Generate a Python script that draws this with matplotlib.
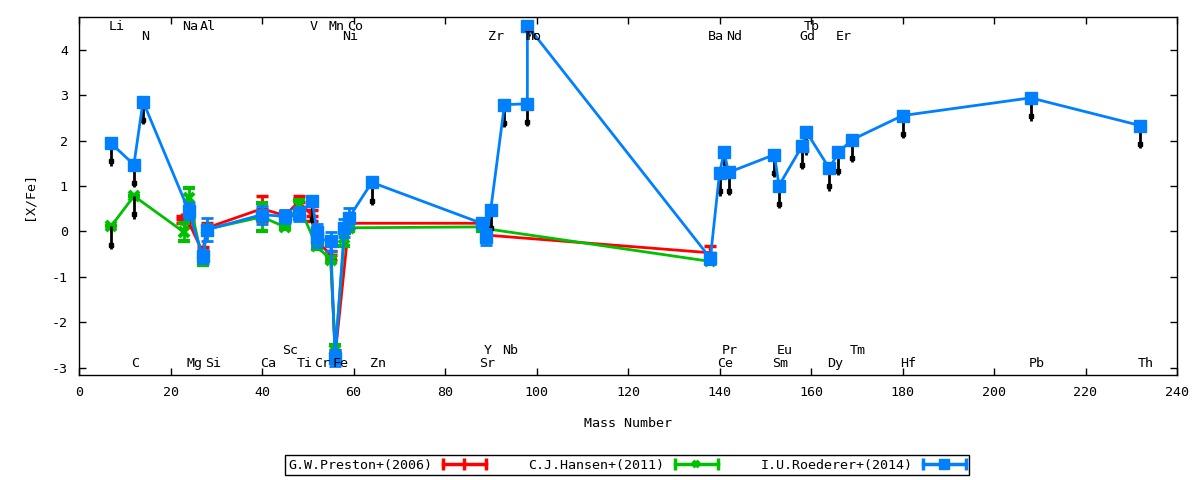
import matplotlib
matplotlib.use("Agg")
import matplotlib.pyplot as plt
from matplotlib.lines import Line2D
from matplotlib.legend_handler import HandlerBase

plt.rcParams['font.family'] = ['DejaVu Sans Mono']
plt.rcParams['font.size'] = 9.6
plt.rcParams['axes.unicode_minus'] = False

# Preston+(2006)
red_x = [22.6, 24, 27, 28, 40, 45, 48, 51, 52, 55, 56, 59, 88, 89, 138]
red_y = [0.27, 0.20, -0.45, 0.08, 0.50, 0.35, 0.65, 0.35, -0.20, -0.52, -2.72, 0.18, 0.18, -0.08, -0.47]
red_e = [0.08, 0.10, 0.10, 0.10, 0.28, 0.10, 0.12, 0.12, 0.10, 0.10, 0.10, 0.10, 0.10, 0.10, 0.15]

# Hansen+(2011)
green_x = [7, 12, 23, 24, 27, 28, 40, 45, 48, 52, 55, 56, 58, 59, 88, 89, 138]
green_y = [0.11, 0.78, -0.02, 0.73, -0.65, 0.05, 0.32, 0.10, 0.58, -0.33, -0.62, -2.60, -0.15, 0.08, 0.10, 0.06, -0.66]
green_e = [0.0, 0.0, 0.20, 0.22, 0.08, 0.08, 0.30, 0.05, 0.12, 0.06, 0.05, 0.10, 0.18, 0.06, 0.08, 0.06, 0.05]

# Roederer+(2014)
blue_x = [7, 12, 14, 24, 27, 28, 40, 45, 48, 51, 52, 52, 55, 56, 58, 59, 64,
          88, 89, 90, 93, 98, 98, 138, 140, 141, 142, 152, 153, 158, 159, 164,
          166, 169, 180, 208, 232]
blue_y = [1.94, 1.47, 2.86, 0.45, -0.55, 0.04, 0.37, 0.33, 0.38, 0.67, -0.02, -0.15, -0.22, -2.78, 0.08, 0.30, 1.08,
          0.18, -0.12, 0.48, 2.79, 2.81, 4.53, -0.59, 1.28, 1.74, 1.30, 1.69, 1.01, 1.87, 2.19, 1.39,
          1.74, 2.02, 2.55, 2.94, 2.33]
blue_e = [0, 0, 0, 0.18, 0.15, 0.25, 0.20, 0.14, 0.15, 0, 0.18, 0.20, 0.20, 0.18, 0.20, 0.22, 0,
          0.10, 0.18, 0, 0, 0, 0, 0.12, 0, 0, 0, 0, 0, 0, 0, 0,
          0, 0, 0, 0, 0]

# upper limits (black arrows)
lim_x = [7, 12, 14, 51, 64, 90, 93, 98, 140, 141, 142, 152, 153, 158, 159, 164, 166, 169, 180, 208, 232, 7, 12]
lim_y = [1.94, 1.47, 2.86, 0.67, 1.08, 0.48, 2.79, 2.81, 1.28, 1.74, 1.30, 1.69, 1.01, 1.87, 2.19, 1.39, 1.74,
         2.02, 2.55, 2.94, 2.33, 0.11, 0.78]

# element labels: (name, mass) per row
row_a = [("Li", 7), ("Na", 23), ("Al", 27), ("V", 51), ("Mn", 55), ("Co", 59), ("Tb", 159)]
row_b = [("N", 14), ("Ni", 58), ("Zr", 90), ("Tc", 98), ("Mo", 98), ("Ba", 138), ("Nd", 142), ("Gd", 158), ("Er", 166)]
row_c = [("Sc", 45), ("Y", 89), ("Nb", 93), ("Pr", 141), ("Eu", 153), ("Tm", 169)]
row_d = [("C", 12), ("Mg", 24), ("Si", 28), ("Ca", 40), ("Ti", 48), ("Cr", 52), ("Fe", 56), ("Zn", 64), ("Sr", 88),
         ("Ce", 140), ("Sm", 152), ("Dy", 164), ("Hf", 180), ("Pb", 208), ("Th", 232)]
row_y = [4.50, 4.28, -2.61, -2.91]

RED = '#ff0000'
GREEN = '#00c000'
BLUE = '#0080ff'

fig = plt.figure(figsize=(12, 4.8), dpi=100)
ax = fig.add_axes([79/1200, 1-375/480, 1098/1200, 358/480])

ax.errorbar(red_x, red_y, yerr=red_e, color=RED, lw=2, marker='+', ms=9, mew=2.5,
            capsize=4, capthick=2, elinewidth=2, zorder=2)
ax.errorbar(green_x, green_y, yerr=green_e, color=GREEN, lw=2, marker='x', ms=7, mew=3,
            capsize=4, capthick=2, elinewidth=2, zorder=3)
ax.vlines(lim_x, [v - 0.5 for v in lim_y], lim_y, color='black', lw=2, zorder=4)
ax.plot(lim_x, [v - 0.4 for v in lim_y], ls='', marker='s', ms=3.5, color='black', zorder=4)
ax.errorbar(blue_x, blue_y, yerr=blue_e, color=BLUE, lw=2, marker='s', ms=8.5,
            capsize=4, capthick=2, elinewidth=2, zorder=5)

for row, yy in zip([row_a, row_b, row_c, row_d], row_y):
    for name, m in row:
        ax.text(m - 0.5, yy, name, ha='left', va='center', zorder=6)

ax.set_xlim(0, 240)
ax.set_ylim(-3.16, 4.72)
ax.set_xticks(range(0, 241, 20))
ax.set_yticks(range(-3, 5))
ax.tick_params(direction='in', length=5, width=1, top=True, right=True, pad=8)
for s in ax.spines.values():
    s.set_linewidth(1)
ax.set_xlabel('Mass Number', labelpad=13)
ax.set_ylabel('[X/Fe]', labelpad=12)


class ErrLineHandler(HandlerBase):
    def create_artists(self, legend, orig, xdescent, ydescent, width, height, fontsize, trans):
        c = orig.get_color()
        y = height / 2 - ydescent
        x0, x1 = -xdescent, width - xdescent
        line = Line2D([x0, x1], [y, y], color=c, lw=2.5)
        caps = Line2D([x0, x1], [y, y], ls='', marker='|', ms=9, mew=2.5, color=c)
        mk = Line2D([(x0 + x1) / 2], [y], ls='', marker=orig.get_marker(), ms=orig.get_markersize(),
                    mew=orig.get_markeredgewidth(), color=c)
        for a in (line, caps, mk):
            a.set_transform(trans)
        return [line, caps, mk]


handles = [Line2D([], [], color=RED, marker='|', ms=8, mew=2.5),
           Line2D([], [], color=GREEN, marker='x', ms=5, mew=3),
           Line2D([], [], color=BLUE, marker='s', ms=7, mew=1)]
labels = ['G.W.Preston+(2006)', 'C.J.Hansen+(2011)', 'I.U.Roederer+(2014)']
leg = fig.legend(handles, labels, loc='center', bbox_to_anchor=(627/1200, 1-465/480), ncol=3,
                 handler_map={Line2D: ErrLineHandler()}, markerfirst=False, frameon=True,
                 fancybox=False, edgecolor='black', framealpha=1, handlelength=3.2,
                 handletextpad=0.8, columnspacing=3.2, borderpad=0.25)
leg.get_frame().set_linewidth(1)

fig.savefig('out.png', dpi=100)
